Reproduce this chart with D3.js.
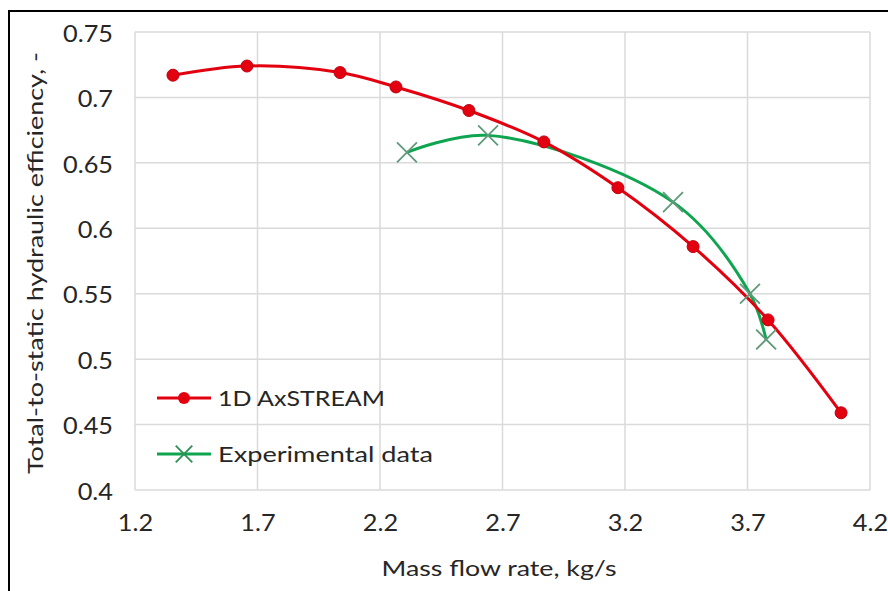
<!DOCTYPE html>
<html>
<head>
<meta charset="utf-8">
<script src="https://cdn.jsdelivr.net/npm/d3@7"></script>
<style>
  body { margin: 0; background: #fff; }
  text { font-family: Lato, "Open Sans", sans-serif; fill: #262626; }
</style>
</head>
<body>
<div id="chart"></div>
<script>
// values
var axstreamFlow = [1.355, 1.657, 2.037, 2.265, 2.563, 2.869, 3.171, 3.478, 3.784, 4.082];
var axstreamEff  = [0.717, 0.724, 0.719, 0.708, 0.690, 0.666, 0.631, 0.586, 0.530, 0.459];
var expFlow = [2.310, 2.641, 3.396, 3.710, 3.776];
var expEff  = [0.658, 0.671, 0.620, 0.550, 0.515];
var xTicks = [1.2, 1.7, 2.2, 2.7, 3.2, 3.7, 4.2];
var yTicks = [0.4, 0.45, 0.5, 0.55, 0.6, 0.65, 0.7, 0.75];
var seriesNames = ["1D AxSTREAM", "Experimental data"];

// the source picture is a bit wider than tall, so text gets stretched sideways
function stretch(sel, k)
{
    sel.each(function() {
        var w = this.getComputedTextLength();
        d3.select(this)
            .attr("textLength", w * k)
            .attr("lengthAdjust", "spacingAndGlyphs");
    });
}

function main()
{
    var svgWidth = 888;
    var svgHeight = 591;

    var svg = d3.select("#chart").append("svg")
        .attr("width", svgWidth)
        .attr("height", svgHeight);

    // outer frame of the picture (right and bottom run off the edge)
    svg.append("rect")
        .attr("x", 9)
        .attr("y", 11)
        .attr("width", 920)
        .attr("height", 700)
        .attr("fill", "none")
        .attr("stroke", "#000")
        .attr("stroke-width", 2);

    var xScale = d3.scaleLinear().domain([1.2, 4.2]).range([135, 870]);
    var yScale = d3.scaleLinear().domain([0.4, 0.75]).range([490, 32]);

    // grid lines
    svg.append("g").selectAll("line")
        .data(xTicks)
        .enter()
        .append("line")
        .attr("x1", function(d) { return xScale(d); })
        .attr("x2", function(d) { return xScale(d); })
        .attr("y1", yScale(0.4))
        .attr("y2", yScale(0.75))
        .attr("stroke", "#dadada")
        .attr("stroke-width", 1.5);

    svg.append("g").selectAll("line")
        .data(yTicks)
        .enter()
        .append("line")
        .attr("x1", xScale(1.2))
        .attr("x2", xScale(4.2))
        .attr("y1", function(d) { return yScale(d); })
        .attr("y2", function(d) { return yScale(d); })
        .attr("stroke", "#dadada")
        .attr("stroke-width", 1.5);

    // axes, only their labels are shown
    var xAxis = svg.append("g")
        .attr("transform", "translate(0," + 512 + ")")
        .call(d3.axisBottom(xScale).tickValues(xTicks).tickSize(0).tickFormat(function(d) { return d; }));
    var yAxis = svg.append("g")
        .attr("transform", "translate(" + 116 + ",0)")
        .call(d3.axisLeft(yScale).tickValues(yTicks).tickSize(0).tickFormat(function(d) { return d; }));
    [xAxis, yAxis].forEach(function(ax) {
        ax.select(".domain").remove();
        ax.selectAll("text")
            .attr("fill", "#262626")
            .style("font-family", "Lato, sans-serif")
            .style("font-size", "23px");
        stretch(ax.selectAll("text"), 1.1);
    });
    yAxis.selectAll("text").attr("dy", "0.4em");

    // axis titles
    svg.append("text")
        .attr("x", 499)
        .attr("y", 576)
        .attr("text-anchor", "middle")
        .attr("textLength", 235)
        .attr("lengthAdjust", "spacingAndGlyphs")
        .style("font-size", "21px")
        .text("Mass flow rate, kg/s");

    svg.append("text")
        .attr("transform", "translate(43," + 263 + ") rotate(-90)")
        .attr("text-anchor", "middle")
        .attr("textLength", 422)
        .attr("lengthAdjust", "spacingAndGlyphs")
        .style("font-size", "21px")
        .text("Total-to-static hydraulic efficiency, -");

    var line = d3.line()
        .x(function(d) { return xScale(d[0]); })
        .y(function(d) { return yScale(d[1]); })
        .curve(d3.curveCatmullRom.alpha(0.5));

    var axstream = d3.zip(axstreamFlow, axstreamEff);
    var experiment = d3.zip(expFlow, expEff);

    // experimental data (drawn first, under the red series)
    svg.append("path")
        .datum(experiment)
        .attr("d", line)
        .attr("fill", "none")
        .attr("stroke", "#0fa550")
        .attr("stroke-width", 3);

    // red series
    svg.append("path")
        .datum(axstream)
        .attr("d", line)
        .attr("fill", "none")
        .attr("stroke", "#e3000f")
        .attr("stroke-width", 3);

    svg.append("g").selectAll("circle")
        .data(axstream)
        .enter()
        .append("circle")
        .attr("cx", function(d) { return xScale(d[0]); })
        .attr("cy", function(d) { return yScale(d[1]); })
        .attr("r", 6)
        .attr("fill", "#e3000f")
        .attr("stroke", "#c00010")
        .attr("stroke-width", 1);

    // x markers for the experiment
    var cross = d3.symbol().type(d3.symbolX).size(260);
    svg.append("g").selectAll("path")
        .data(experiment)
        .enter()
        .append("path")
        .attr("transform", function(d) { return "translate(" + xScale(d[0]) + "," + yScale(d[1]) + ")"; })
        .attr("d", cross)
        .attr("fill", "none")
        .attr("stroke", "#5f9a7a")
        .attr("stroke-width", 1.8);

    // legend
    var legend = svg.append("g");
    var legendRows = [
        { name: seriesNames[0], y: 398, color: "#e3000f", width: 167 },
        { name: seriesNames[1], y: 454, color: "#0fa550", width: 215 }
    ];
    legendRows.forEach(function(row, i) {
        legend.append("line")
            .attr("x1", 157).attr("x2", 211)
            .attr("y1", row.y).attr("y2", row.y)
            .attr("stroke", row.color)
            .attr("stroke-width", 3);
        if (i == 0) {
            legend.append("circle")
                .attr("cx", 184).attr("cy", row.y).attr("r", 6)
                .attr("fill", row.color);
        } else {
            legend.append("path")
                .attr("transform", "translate(184," + row.y + ")")
                .attr("d", d3.symbol().type(d3.symbolX).size(180))
                .attr("fill", "none")
                .attr("stroke", "#2f8f55")
                .attr("stroke-width", 1.8);
        }
        legend.append("text")
            .attr("x", 218)
            .attr("y", row.y + 8)
            .attr("textLength", row.width)
            .attr("lengthAdjust", "spacingAndGlyphs")
            .style("font-size", "22px")
            .text(row.name);
    });
}
main();
</script>
</body>
</html>
